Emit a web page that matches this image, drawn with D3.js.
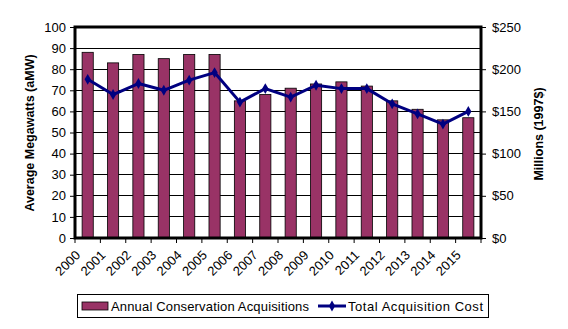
<!DOCTYPE html>
<html>
<head>
<meta charset="utf-8">
<script src="https://cdn.jsdelivr.net/npm/d3@7"></script>
<style>
  html, body { margin: 0; padding: 0; background: #fff; }
  svg { display: block; font-family: Arial, "Liberation Sans", sans-serif; }
</style>
</head>
<body>
<div id="chart"></div>
<script>
// data
var years = ['2000','2001','2002','2003','2004','2005','2006','2007','2008','2009','2010','2011','2012','2013','2014','2015'];
var megawatts = [88, 83, 87, 85, 87, 87, 65, 68, 71, 73, 74, 72, 65, 61, 56, 57];
var costs = [188, 170, 183, 175, 187, 196, 161, 177, 167, 181, 177, 177, 159, 147, 135, 150];
var leftTicks = [0, 10, 20, 30, 40, 50, 60, 70, 80, 90, 100];
var rightTicks = [0, 50, 100, 150, 200, 250];

var W = 568, H = 329;
var plot = {left: 75, top: 27, right: 481, bottom: 238};
var font = 'Arial, "Liberation Sans", sans-serif';

var svg = d3.select('#chart').append('svg')
    .attr('width', W)
    .attr('height', H);

var x = d3.scaleBand().domain(years).range([plot.left, plot.right]).paddingInner(0);
var yL = d3.scaleLinear().domain([0, 100]).range([plot.bottom, plot.top]);
var yR = d3.scaleLinear().domain([0, 250]).range([plot.bottom, plot.top]);

// gridlines
svg.append('g')
    .selectAll('line')
    .data(leftTicks.slice(1, -1))
    .join('line')
    .attr('x1', plot.left).attr('x2', plot.right)
    .attr('y1', d => yL(d)).attr('y2', d => yL(d))
    .attr('stroke', '#000').attr('stroke-width', 1)
    .attr('shape-rendering', 'crispEdges');

// bars
var bw = x.bandwidth() * 0.44;
svg.append('g')
    .selectAll('rect')
    .data(megawatts)
    .join('rect')
    .attr('x', (d, i) => x(years[i]) + (x.bandwidth() - bw) / 2)
    .attr('y', d => yL(d))
    .attr('width', bw)
    .attr('height', d => plot.bottom - yL(d))
    .attr('fill', '#993366')
    .attr('stroke', '#000')
    .attr('stroke-width', 0.8);

// left axis
var axL = svg.append('g')
    .attr('transform', 'translate(' + plot.left + ',0)')
    .call(d3.axisLeft(yL).tickValues(leftTicks).tickSize(5).tickPadding(4));
axL.select('.domain').remove();
axL.selectAll('text').attr('font-size', 13).attr('font-family', font).attr('fill', '#000');

// right axis
var axR = svg.append('g')
    .attr('transform', 'translate(' + plot.right + ',0)')
    .call(d3.axisRight(yR).tickValues(rightTicks).tickSize(5).tickPadding(6).tickFormat(d => '$' + d));
axR.select('.domain').remove();
axR.selectAll('text').attr('font-size', 13).attr('font-family', font).attr('fill', '#000');

// x tick marks at category edges
var edges = years.map(d => x(d)).concat([plot.right]);
svg.append('g')
    .selectAll('line')
    .data(edges)
    .join('line')
    .attr('x1', d => d).attr('x2', d => d)
    .attr('y1', plot.bottom).attr('y2', plot.bottom + 5)
    .attr('stroke', '#000');

// x labels, rotated
svg.append('g')
    .selectAll('text')
    .data(years)
    .join('text')
    .attr('transform', d => 'translate(' + (x(d) + 6) + ',' + (plot.bottom + 18) + ') rotate(-45)')
    .attr('text-anchor', 'end')
    .attr('font-size', 13)
    .text(d => d);

// plot frame
svg.append('rect')
    .attr('x', plot.left).attr('y', plot.top)
    .attr('width', plot.right - plot.left)
    .attr('height', plot.bottom - plot.top)
    .attr('fill', 'none')
    .attr('stroke', '#000')
    .attr('stroke-width', 3);

// cost line
var line = d3.line()
    .x((d, i) => x(years[i]) + x.bandwidth() / 2)
    .y(d => yR(d));
svg.append('path')
    .datum(costs)
    .attr('d', line)
    .attr('fill', 'none')
    .attr('stroke', '#000080')
    .attr('stroke-width', 3)
    .attr('stroke-linejoin', 'round');

var diamond = d3.symbol().type(d3.symbolDiamond).size(34);
svg.append('g')
    .selectAll('path')
    .data(costs)
    .join('path')
    .attr('d', diamond)
    .attr('transform', (d, i) => 'translate(' + (x(years[i]) + x.bandwidth() / 2) + ',' + yR(d) + ')')
    .attr('fill', '#000080');

// axis titles
svg.append('text')
    .attr('transform', 'translate(34,' + 133 + ') rotate(-90)')
    .attr('text-anchor', 'middle')
    .attr('font-size', 12.5)
    .attr('font-weight', 'bold')
    .text('Average Megawatts (aMW)');

svg.append('text')
    .attr('transform', 'translate(543,' + 134 + ') rotate(-90)')
    .attr('text-anchor', 'middle')
    .attr('font-size', 12.5)
    .attr('font-weight', 'bold')
    .text('Millions (1997$)');

// legend
var lg = svg.append('g');
lg.append('rect')
    .attr('x', 77.5).attr('y', 294.5).attr('width', 411).attr('height', 23)
    .attr('fill', '#fff').attr('stroke', '#000').attr('stroke-width', 1);
lg.append('rect')
    .attr('x', 82).attr('y', 302).attr('width', 26).attr('height', 8)
    .attr('fill', '#993366').attr('stroke', '#000').attr('stroke-width', 0.8);
lg.append('text')
    .attr('x', 111).attr('y', 311)
    .attr('font-size', 13)
    .attr('textLength', 198)
    .text('Annual Conservation Acquisitions');
lg.append('line')
    .attr('x1', 318).attr('x2', 346).attr('y1', 306).attr('y2', 306)
    .attr('stroke', '#000080').attr('stroke-width', 3);
lg.append('path')
    .attr('d', diamond)
    .attr('transform', 'translate(332,306)')
    .attr('fill', '#000080');
lg.append('text')
    .attr('x', 348).attr('y', 311)
    .attr('font-size', 13)
    .attr('textLength', 135)
    .text('Total Acquisition Cost');
</script>
</body>
</html>
